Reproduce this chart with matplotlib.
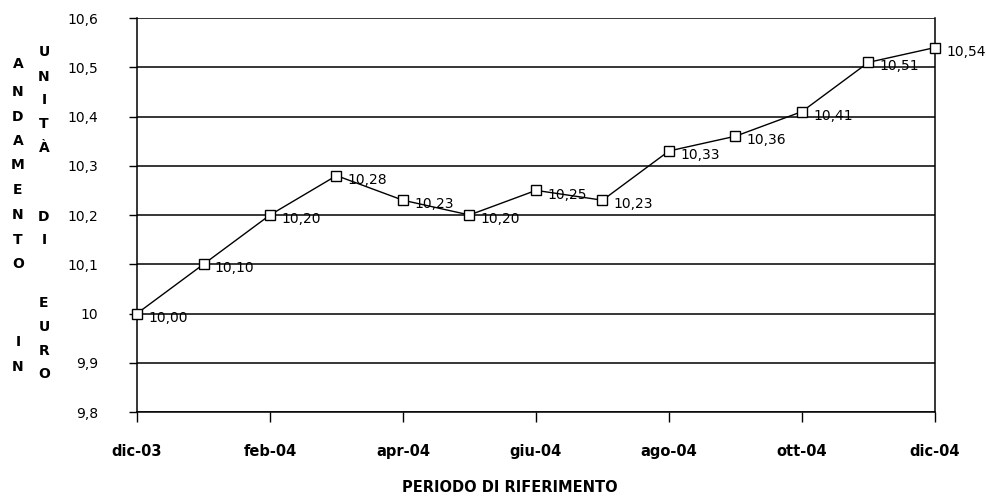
import matplotlib
matplotlib.use('Agg')
import matplotlib.pyplot as plt

# dati
mesi = ['dic-03', 'gen-04', 'feb-04', 'mar-04', 'apr-04', 'mag-04', 'giu-04',
        'lug-04', 'ago-04', 'set-04', 'ott-04', 'nov-04', 'dic-04']
valori = [10.00, 10.10, 10.20, 10.28, 10.23, 10.20, 10.25,
          10.23, 10.33, 10.36, 10.41, 10.51, 10.54]
y_ticks = [9.8, 9.9, 10.0, 10.1, 10.2, 10.3, 10.4, 10.5, 10.6]
y_tick_labels = ['9,8', '9,9', '10', '10,1', '10,2', '10,3', '10,4', '10,5', '10,6']

W, H = 987, 497
fig = plt.figure(figsize=(W / 100, H / 100), dpi=100)
ax = fig.add_axes([137 / W, 1 - 412 / H, (935 - 137) / W, (412 - 18) / H])

x = list(range(len(mesi)))
ax.plot(x, valori, color='black', lw=1.0, marker='s', markersize=7,
        markerfacecolor='white', markeredgecolor='black', markeredgewidth=1.0,
        zorder=3, clip_on=False)

# etichette dei valori
for xi, v in zip(x, valori):
    ax.annotate(f'{v:.2f}'.replace('.', ','), (xi, v), xytext=(8, -3),
                textcoords='offset points', ha='left', va='center',
                fontsize=10, zorder=4)

ax.set_xlim(0, len(mesi) - 1)
ax.set_ylim(9.8, 10.6)
ax.set_yticks(y_ticks)
ax.set_yticklabels(y_tick_labels, fontsize=10)
ax.set_xticks(x[::2])
ax.set_xticklabels(mesi[::2], fontsize=10.5, fontweight='bold')
ax.tick_params(axis='y', length=6, width=1, pad=22, direction='out')
ax.tick_params(axis='x', length=7, width=1, pad=16, direction='out')

ax.grid(axis='y', color='black', lw=1.1)
ax.set_axisbelow(True)
for s in ['left', 'bottom', 'right']:
    ax.spines[s].set_color('black')
    ax.spines[s].set_linewidth(1.1)
ax.spines['top'].set_visible(False)

ax.set_xlabel('PERIODO DI RIFERIMENTO', fontsize=10.5, fontweight='bold')
ax.xaxis.set_label_coords((510 - 137) / (935 - 137), -(488 - 412) / (412 - 18))
ax.xaxis.label.set_va('center')

# titoli verticali lettera per lettera
col1 = [('A', 64), ('N', 92), ('D', 117), ('A', 141), ('M', 165), ('E', 190),
        ('N', 215), ('T', 240), ('O', 264), ('I', 342), ('N', 367)]
col2 = [('U', 52), ('N', 77), ('I', 100), ('T', 124), ('À', 148), ('D', 217),
        ('I', 240), ('E', 303), ('U', 327), ('R', 351), ('O', 374)]
for ch, py in col1:
    fig.text(18 / W, 1 - py / H, ch, fontsize=10, fontweight='bold',
             ha='center', va='center')
for ch, py in col2:
    fig.text(44 / W, 1 - py / H, ch, fontsize=10, fontweight='bold',
             ha='center', va='center')

fig.savefig('out.png', dpi=100)
